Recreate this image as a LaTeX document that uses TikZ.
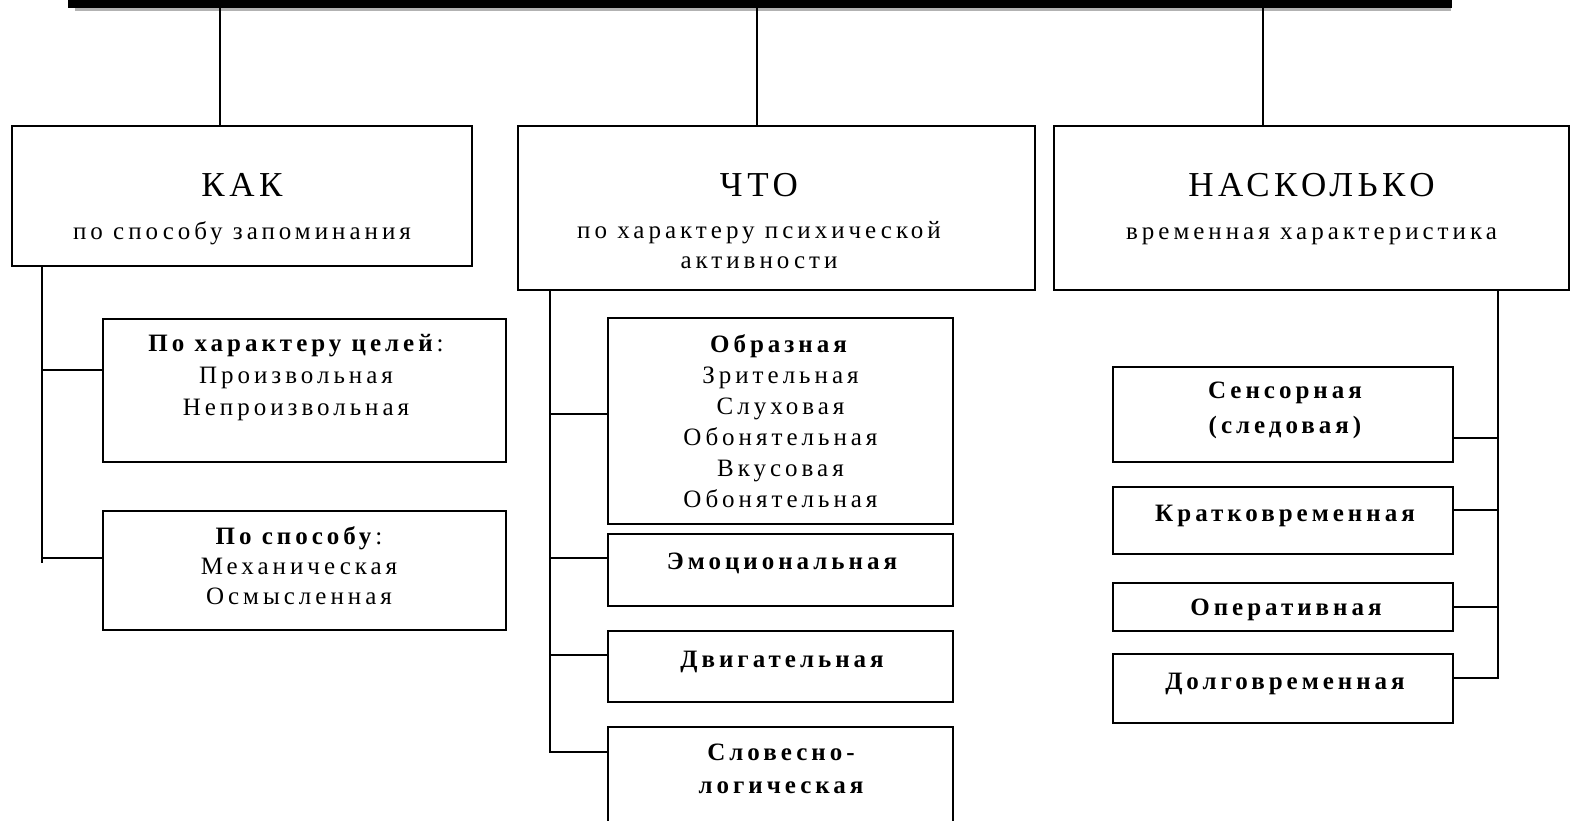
\documentclass[tikz,border=0pt]{standalone}
\usepackage{fontspec}
\newfontfamily\bodyfont{Liberation Serif}[LetterSpace=16]
\newfontfamily\headfont{Liberation Serif}[LetterSpace=13]
\usetikzlibrary{positioning, shadows}

\begin{document}
\begin{tikzpicture}[x=1pt, y=-1pt,
  box/.style={draw, line width=1.6pt, inner sep=0pt},
  wide/.style={box, minimum width=403pt},
  mid/.style={box, minimum width=345pt},
  narrow/.style={box, minimum width=340pt},
  link/.style={line width=1.6pt},
  head/.style={font=\headfont\fontsize{35}{40}\selectfont, anchor=base, inner sep=0pt},
  body/.style={font=\bodyfont\fontsize{25}{31}\selectfont, align=center, anchor=base, inner sep=0pt},
  bbody/.style={body, font=\bodyfont\fontsize{25}{31}\selectfont\bfseries}]
\useasboundingbox (0,0) rectangle (1571,820);
\clip (0,0) rectangle (1571,820);
% top box, cut off by the page
\node (memory)[box, line width=8pt, fill=white, minimum width=1376pt, minimum height=80pt,
  drop shadow={fill=black, opacity=0.3, shadow xshift=3pt, shadow yshift=-7pt}] at (760,-36) {};
% three groups
\node (kak)[box, minimum width=460pt, minimum height=140pt] at (242,196) {};
\node (chto)[box, minimum width=517pt, minimum height=164pt] at (776.5,208) {};
\node (nask)[box, minimum width=515pt, minimum height=164pt] at (1311.5,208) {};
\node (kak-h)[head] at (242,196) {КАК};
\node (kak-s)[body] at (242,239) {по способу запоминания};
\node (chto-h)[head] at (759,196) {ЧТО};
\node (chto-s)[body, font=\bodyfont\fontsize{25}{30}\selectfont] at (759,268) {по характеру психической\\активности};
\node (nask-h)[head] at (1311.5,196) {НАСКОЛЬКО};
\node (nask-s)[body] at (1311.5,239) {временная характеристика};
% KAK
\node (tsel)[wide, minimum height=143pt] at (304.5,390.5) {};
\node (sposob)[wide, minimum height=119pt] at (304.5,570.5) {};
\node (tsel-t)[body, font=\bodyfont\fontsize{25}{32}\selectfont] at (296,415) {\textbf{По характеру целей}:\\Произвольная\\Непроизвольная};
\node (sposob-t)[body, font=\bodyfont\fontsize{25}{30}\selectfont] at (299,604) {\textbf{По способу}:\\Механическая\\Осмысленная};
% ЧТО
\node (obraz)[mid, minimum height=206pt] at (780.5,421) {};
\node (emoc)[mid, minimum height=72pt] at (780.5,570) {};
\node (dvig)[mid, minimum height=71pt] at (780.5,666.5) {};
\node (slov)[mid, minimum height=123pt] at (780.5,788.5) {};
\node (obraz-t)[body] at (780.5,507) {\textbf{Образная}\\Зрительная\\Слуховая\\Обонятельная\\Вкусовая\\Обонятельная};
\node (emoc-t)[bbody] at (782,569) {Эмоциональная};
\node (dvig-t)[bbody] at (782,667) {Двигательная};
\node (slov-t)[bbody, font=\bodyfont\fontsize{25}{33}\selectfont\bfseries] at (781,793) {Словесно-\\логическая};
% НАСКОЛЬКО
\node (sens)[narrow, minimum height=95pt] at (1283,414.5) {};
\node (krat)[narrow, minimum height=67pt] at (1283,520.5) {};
\node (oper)[narrow, minimum height=48pt] at (1283,607) {};
\node (dolg)[narrow, minimum height=69pt] at (1283,688.5) {};
\node (sens-t)[bbody, font=\bodyfont\fontsize{25}{35}\selectfont\bfseries] at (1285,433) {Сенсорная\\(следовая)};
\node (krat-t)[bbody] at (1285,521) {Кратковременная};
\node (oper-t)[bbody] at (1286,615) {Оперативная};
\node (dolg-t)[bbody] at (1285,689) {Долговременная};
% links from the top
\draw[link] ([xshift=-22pt]kak.north) -- ([xshift=-22pt]kak.north |- memory.south);
\draw[link] ([xshift=-19.5pt]chto.north) -- ([xshift=-19.5pt]chto.north |- memory.south);
\draw[link] ([xshift=-48.5pt]nask.north) -- ([xshift=-48.5pt]nask.north |- memory.south);
% buses
\coordinate (kak-bus) at ([xshift=31pt]kak.south west);
\coordinate (chto-bus) at ([xshift=33pt]chto.south west);
\coordinate (nask-bus) at ([xshift=-72pt]nask.south east);
\draw[link] (kak-bus) -- ([yshift=7.5pt]sposob.west -| kak-bus);
\draw[link] ([yshift=20.5pt]tsel.west) -- ([yshift=20.5pt]tsel.west -| kak-bus);
\draw[link] ([yshift=12.5pt]sposob.west) -- ([yshift=12.5pt]sposob.west -| kak-bus);
\draw[link] (chto-bus) |- ([yshift=36.5pt]slov.west);
\draw[link] ([yshift=7pt]obraz.west) -- ([yshift=7pt]obraz.west -| chto-bus);
\draw[link] ([yshift=12pt]emoc.west) -- ([yshift=12pt]emoc.west -| chto-bus);
\draw[link] ([yshift=11.5pt]dvig.west) -- ([yshift=11.5pt]dvig.west -| chto-bus);
\draw[link] (nask-bus) |- ([yshift=10.5pt]dolg.east);
\draw[link] ([yshift=-23.5pt]sens.east) -- ([yshift=-23.5pt]sens.east -| nask-bus);
\draw[link] ([yshift=10.5pt]krat.east) -- ([yshift=10.5pt]krat.east -| nask-bus);
\draw[link] (oper.east) -- (oper.east -| nask-bus);
\end{tikzpicture}
\end{document}
